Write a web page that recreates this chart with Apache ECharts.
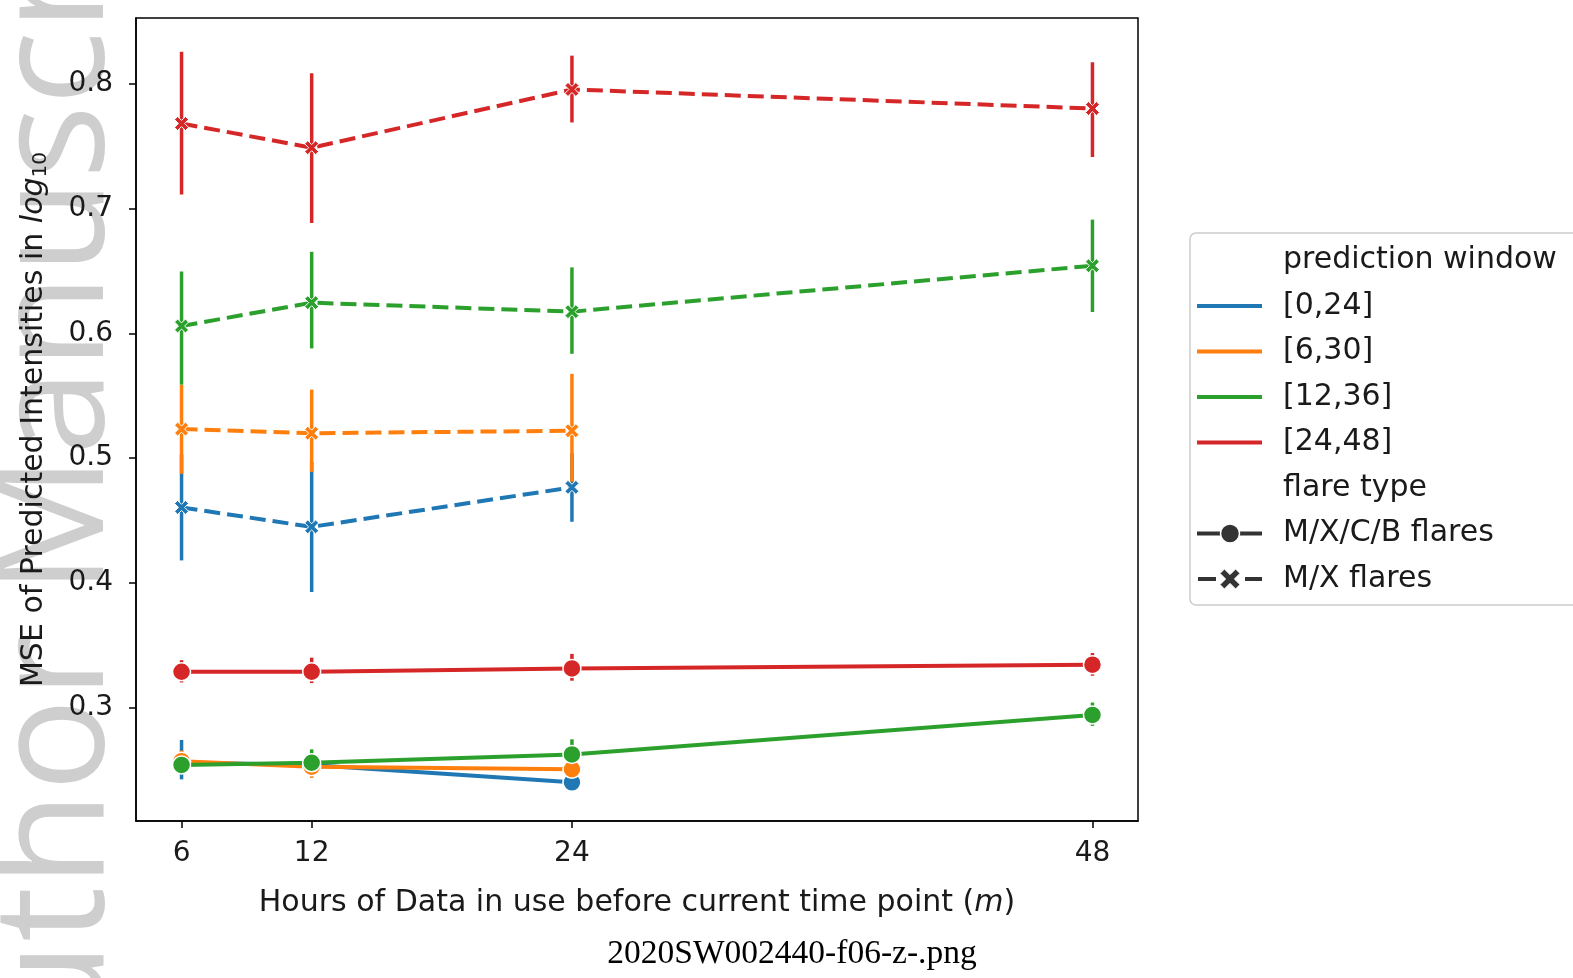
<!DOCTYPE html>
<html>
<head>
<meta charset="utf-8">
<script src="https://cdn.jsdelivr.net/npm/echarts@6/dist/echarts.min.js"></script>
<style>
  html, body { margin: 0; padding: 0; background: #fff; }
  #chart { width: 1573px; height: 978px; }
</style>
</head>
<body>
<div id="chart"></div>
<script>
// Hours of data used before the current time point (m)
const hours = [6, 12, 24, 48];
const yTicks = [0.3, 0.4, 0.5, 0.6, 0.7, 0.8];

const windows = ['[0,24]', '[6,30]', '[12,36]', '[24,48]'];
const windowColors = ['#1f77b4', '#ff7f0e', '#2ca02c', '#d62728'];

// MSE for M/X/C/B flares (solid lines), one array per prediction window
const mxcb_0_24  = [0.256, 0.254, 0.240];
const mxcb_6_30  = [0.257, 0.2525, 0.2505];
const mxcb_12_36 = [0.254, 0.2557, 0.2624, 0.2941];
const mxcb_24_48 = [0.3287, 0.3287, 0.3314, 0.3344];

// Error bar ranges [low, high] for M/X/C/B flares
const mxcbErr_0_24  = [[0.2424, 0.274], [0.248, 0.260], [0.236, 0.244]];
const mxcbErr_6_30  = [[0.249, 0.2655], [0.2436, 0.2615], [0.246, 0.255]];
const mxcbErr_12_36 = [[0.249, 0.259], [0.2449, 0.2665], [0.250, 0.2745], [0.2853, 0.304]];
const mxcbErr_24_48 = [[0.3201, 0.338], [0.3196, 0.340], [0.3215, 0.343], [0.3255, 0.3437]];

// MSE for M/X flares (dashed lines)
const mx_0_24  = [0.4605, 0.4449, 0.4766];
const mx_6_30  = [0.5233, 0.520, 0.522];
const mx_12_36 = [0.606, 0.6247, 0.6175, 0.6543];
const mx_24_48 = [0.7684, 0.749, 0.7957, 0.7804];

// Error bar ranges [low, high] for M/X flares
const mxErr_0_24  = [[0.418, 0.503], [0.3926, 0.497], [0.449, 0.504]];
const mxErr_6_30  = [[0.4874, 0.559], [0.489, 0.555], [0.481, 0.5676]];
const mxErr_12_36 = [[0.559, 0.6497], [0.588, 0.6655], [0.5837, 0.653], [0.6172, 0.6913]];
const mxErr_24_48 = [[0.7114, 0.826], [0.6886, 0.8086], [0.7692, 0.8228], [0.7415, 0.8175]];

const mxcbValues = [mxcb_0_24, mxcb_6_30, mxcb_12_36, mxcb_24_48];
const mxcbErrors = [mxcbErr_0_24, mxcbErr_6_30, mxcbErr_12_36, mxcbErr_24_48];
const mxValues = [mx_0_24, mx_6_30, mx_12_36, mx_24_48];
const mxErrors = [mxErr_0_24, mxErr_6_30, mxErr_12_36, mxErr_24_48];

// Filled "X" marker outline on a unit square
const xShape = [[0.22,0],[0.5,0.28],[0.78,0],[1,0.22],[0.72,0.5],[1,0.78],[0.78,1],[0.5,0.72],[0.22,1],[0,0.78],[0.28,0.5],[0,0.22]];
const xMarker = 'path://M' + xShape.map(p => p[0] + ',' + p[1]).join(' L') + ' Z';

const FONT = 'DejaVu Sans';
const TEXT = '#1a1a1a';

function pairs(vals) { return vals.map((v, i) => [hours[i], v]); }
function errRows(errs) { return errs.map((e, i) => [hours[i], e[0], e[1]]); }

function errorBarSeries(errs, color) {
  return {
    type: 'custom',
    z: 1,
    silent: true,
    data: errRows(errs),
    encode: { x: 0, y: [1, 2] },
    renderItem: function (params, api) {
      const x = api.value(0);
      const p1 = api.coord([x, api.value(1)]);
      const p2 = api.coord([x, api.value(2)]);
      return {
        type: 'line',
        shape: { x1: p1[0], y1: p1[1], x2: p2[0], y2: p2[1] },
        style: { stroke: color, lineWidth: 3.5 }
      };
    }
  };
}

const series = [];
windows.forEach((w, k) => {
  const c = windowColors[k];
  series.push(errorBarSeries(mxcbErrors[k], c));
  series.push(errorBarSeries(mxErrors[k], c));
});
windows.forEach((w, k) => {
  const c = windowColors[k];
  series.push({
    type: 'line', name: w + ' M/X/C/B', z: 2,
    data: pairs(mxcbValues[k]),
    symbol: 'circle', symbolSize: 18, showAllSymbol: true,
    lineStyle: { color: c, width: 4 },
    itemStyle: { color: c, borderColor: '#fff', borderWidth: 1.5 },
    emphasis: { disabled: true }, animation: false
  });
  series.push({
    type: 'line', name: w + ' M/X', z: 2,
    data: pairs(mxValues[k]),
    symbol: xMarker, symbolSize: 14, showAllSymbol: true,
    lineStyle: { color: c, width: 4, type: [16, 7] },
    itemStyle: { color: c, borderColor: '#fff', borderWidth: 1 },
    emphasis: { disabled: true }, animation: false
  });
});

// Legend drawn as graphic elements
const legX = 1190, legY = 233;
const rowY = i => 260.5 + i * 45.5;
const LEG_FONT = '30px "DejaVu Sans"';
const legText = (i, t) => ({ type: 'text', style: { x: 1283, y: rowY(i), text: t, font: LEG_FONT, fill: TEXT, verticalAlign: 'middle' } });
const legendItems = [
  { type: 'rect', shape: { x: legX, y: legY, width: 420, height: 372, r: 6 },
    style: { fill: 'rgba(255,255,255,0.85)', stroke: '#cccccc', lineWidth: 1.5 } },
  legText(0, 'prediction window')
];
windows.forEach((w, k) => {
  legendItems.push({ type: 'line', shape: { x1: 1197, y1: rowY(k + 1), x2: 1262, y2: rowY(k + 1) },
    style: { stroke: windowColors[k], lineWidth: 4 } });
  legendItems.push(legText(k + 1, w));
});
legendItems.push(legText(5, 'flare type'));
legendItems.push({ type: 'line', shape: { x1: 1197, y1: rowY(6), x2: 1262, y2: rowY(6) }, style: { stroke: '#333', lineWidth: 4 } });
legendItems.push({ type: 'circle', shape: { cx: 1230, cy: rowY(6), r: 9.5 }, style: { fill: '#333', stroke: '#fff', lineWidth: 1.5 } });
legendItems.push(legText(6, 'M/X/C/B flares'));
legendItems.push({ type: 'line', shape: { x1: 1198, y1: rowY(7), x2: 1216, y2: rowY(7) }, style: { stroke: '#333', lineWidth: 4 } });
legendItems.push({ type: 'line', shape: { x1: 1245, y1: rowY(7), x2: 1262, y2: rowY(7) }, style: { stroke: '#333', lineWidth: 4 } });
legendItems.push({ type: 'polygon', shape: { points: xShape.map(p => [1220 + p[0] * 20, rowY(7) - 10 + p[1] * 20]) },
  style: { fill: '#333', stroke: '#fff', lineWidth: 1 } });
legendItems.push(legText(7, 'M/X flares'));

const chart = echarts.init(document.getElementById('chart'), null, { renderer: 'canvas' });
chart.setOption({
  animation: false,
  backgroundColor: '#fff',
  grid: { left: 136, top: 18, width: 1002, height: 803, show: true, borderColor: '#000', borderWidth: 1.5, backgroundColor: 'transparent' },
  xAxis: {
    type: 'value', min: 3.9, max: 50.1,
    name: 'Hours of Data in use before current time point ({it|m})',
    nameLocation: 'middle', nameGap: 67,
    nameTextStyle: { fontFamily: FONT, fontSize: 30, color: TEXT, verticalAlign: 'top',
      rich: { it: { fontFamily: FONT, fontSize: 30, fontStyle: 'italic', color: TEXT } } },
    axisLine: { show: true, onZero: false, lineStyle: { color: '#000', width: 1.5 } },
    axisTick: { show: true, length: 7, lineStyle: { color: '#000', width: 1.5 }, customValues: hours },
    axisLabel: { fontFamily: FONT, fontSize: 28, color: TEXT, margin: 19, customValues: hours },
    splitLine: { show: false }
  },
  yAxis: {
    type: 'value', min: 0.209, max: 0.853,
    name: 'MSE of Predicted Intensities in {it|log}{sub|10}',
    nameLocation: 'middle', nameGap: 85, nameRotate: 90,
    nameTextStyle: { fontFamily: FONT, fontSize: 30, color: TEXT,
      rich: {
        it: { fontFamily: FONT, fontSize: 30, fontStyle: 'italic', color: TEXT },
        sub: { fontFamily: FONT, fontSize: 20, color: TEXT, verticalAlign: 'bottom', padding: [14, 0, 0, 0] }
      } },
    axisLine: { show: true, onZero: false, lineStyle: { color: '#000', width: 1.5 } },
    axisTick: { show: true, length: 7, lineStyle: { color: '#000', width: 1.5 }, customValues: yTicks },
    axisLabel: { fontFamily: FONT, fontSize: 28, color: TEXT, margin: 23, customValues: yTicks,
      padding: [12, 0, 0, 0], formatter: v => v.toFixed(1) },
    splitLine: { show: false }
  },
  series: series,
  graphic: [
    { type: 'text', z: -10, silent: true, rotation: Math.PI / 2, x: 136, y: 1135,
      style: { text: 'Author Manuscript', font: '155px "Open Sans"', fill: '#cecece', align: 'left', verticalAlign: 'bottom' } },
    { type: 'text', silent: true, x: 792, y: 954,
      style: { text: '2020SW002440-f06-z-.png', font: '33.5px "Liberation Serif"', fill: '#000', align: 'center', verticalAlign: 'middle' } },
    { type: 'group', z: 100, silent: true, children: legendItems }
  ]
});
</script>
</body>
</html>
